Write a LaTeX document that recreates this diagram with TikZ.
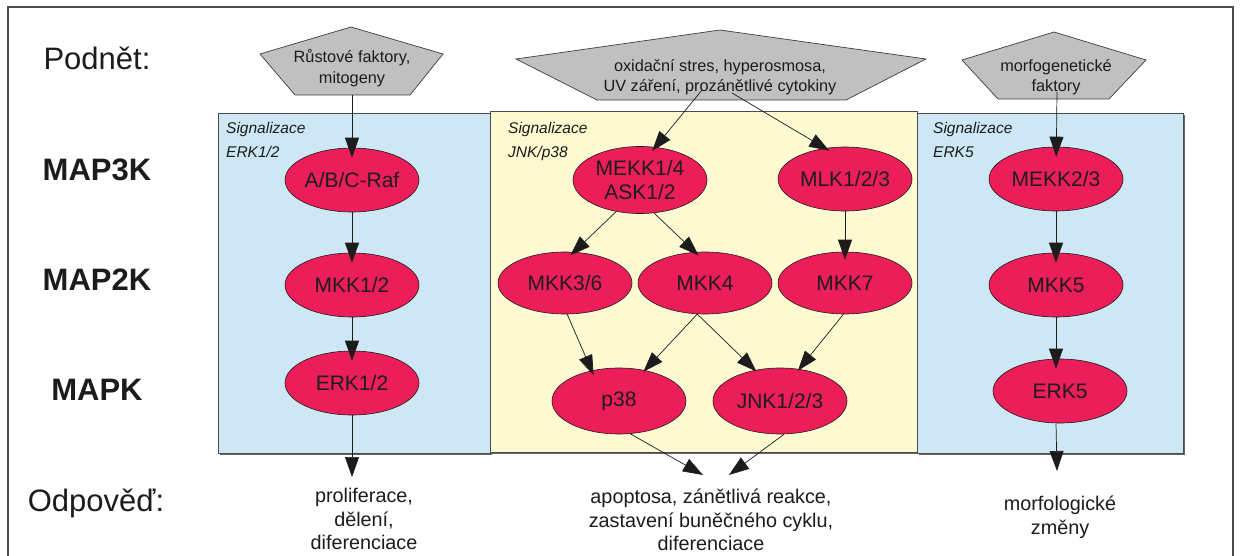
\documentclass[tikz,border=0pt]{standalone}
\usepackage{fontspec}
\setmainfont{Liberation Sans}
\usetikzlibrary{shapes.geometric,arrows.meta,calc}
\definecolor{kinase}{HTML}{EC1E5A}
\definecolor{erkbg}{HTML}{CDE8F4}
\definecolor{jnkbg}{HTML}{FDF9D1}
\definecolor{stimulus}{HTML}{C0C0C0}
\definecolor{ink}{HTML}{1C1C1C}
\tikzset{
  kin/.style={ellipse, draw=ink, line width=0.6pt, fill=kinase,
    minimum width=134pt, minimum height=64pt, inner sep=0pt, align=center,
    text=ink, font=\fontsize{21}{23.5}\selectfont},
  pent/.style={draw=ink!85, line width=0.7pt, fill=stimulus},
  pentext/.style={align=center, text=ink, font=\fontsize{16.3}{20.5}\selectfont},
  panel/.style={draw=black!70, line width=0.8pt},
  paneltitle/.style={anchor=north west, align=left, inner sep=0pt, text=ink,
    font=\fontsize{15.5}{24}\selectfont\itshape},
  rowlabel/.style={anchor=base, inner sep=0pt, text=ink, font=\fontsize{31}{36}\selectfont},
  response/.style={anchor=north, align=center, inner sep=0pt, text=ink,
    font=\fontsize{19.8}{23.5}\selectfont},
  link/.style={-{Triangle[length=20pt,width=14pt]}, draw=ink, line width=0.7pt,
    shorten >=-5pt},
}
\begin{document}
\begin{tikzpicture}[x=1pt,y=-1pt]
\useasboundingbox (0,0) rectangle (1241,556);
\fill[white] (0,0) rectangle (1241,556);

% outer frame
\draw[black!70, line width=1.2pt] (8,556) -- (8,7) -- (1233,7) -- (1233,556);

% signalling panels with a soft shadow
\fill[black!60] (220,115) rectangle (492,455);
\fill[black!60] (919,115) rectangle (1185,455);
\fill[black!60] (492,113) rectangle (919,454);
\filldraw[panel, fill=erkbg] (218,113) rectangle (490,453);
\filldraw[panel, fill=erkbg] (917,113) rectangle (1183,453);
\filldraw[panel, fill=jnkbg] (490,111) rectangle (917,452);

\node[paneltitle] (t1) at (226,122) {Signalizace\\ERK1/2};
\node[paneltitle] (t2) at (508,122) {Signalizace\\JNK/p38};
\node[paneltitle] (t3) at (933,122) {Signalizace\\ERK5};

% row labels
\node[rowlabel] (lstim) at (97,70) {Podnět:};
\node[rowlabel, font=\fontsize{31}{36}\selectfont\bfseries] (l3) at (97,181) {MAP3K};
\node[rowlabel, font=\fontsize{31}{36}\selectfont\bfseries] (l2) at (97,290) {MAP2K};
\node[rowlabel, font=\fontsize{31}{36}\selectfont\bfseries] (l1) at (97,400) {MAPK};
\node[rowlabel] (lresp) at (96,511) {Odpověď:};

% stimuli
\path[pent] (260,54) -- (351,27) -- (443,54) -- (410,95) -- (295,95) -- cycle;
\node[pentext] (growth) at (352,68) {Růstové faktory,\\mitogeny};
\path[pent] (516,59) -- (720,30) -- (926,59) -- (846,100) -- (597,100) -- cycle;
\node[pentext] (stress) at (720,77) {oxidační stres, hyperosmosa,\\UV záření, prozánětlivé cytokiny};
\path[pent] (962,60) -- (1054,32) -- (1146,60) -- (1109,99) -- (998,99) -- cycle;
\node[pentext] (morpho) at (1056,77) {morfogenetické\\faktory};
\coordinate (g1) at (352,95);
\coordinate (s1) at (702,90);
\coordinate (s2) at (732,93);
\coordinate (m1) at (1057,92);

% kinases
\node[kin] (raf) at (352,180) {A/B/C-Raf};
\node[kin] (mkk12) at (352,285) {MKK1/2};
\node[kin] (erk12) at (352,383) {ERK1/2};

\node[kin, minimum height=67pt] (mekk) at (640,180) {MEKK1/4\\ASK1/2};
\node[kin] (mlk) at (845,179) {MLK1/2/3};
\node[kin, minimum height=62pt] (mkk36) at (565,283) {MKK3/6};
\node[kin, minimum height=62pt] (mkk4) at (705,283) {MKK4};
\node[kin, minimum height=62pt] (mkk7) at (845,283) {MKK7};
\node[kin, minimum height=66pt] (p38) at (619,401) {p38};
\node[kin, minimum height=66pt] (jnk) at (780,401) {JNK1/2/3};

\node[kin] (mekk23) at (1056,179) {MEKK2/3};
\node[kin] (mkk5) at (1056,285) {MKK5};
\node[kin] (erk5) at (1060,391) {ERK5};

% responses
\node[response] (r1) at (364,488) {proliferace,\\dělení,\\diferenciace};
\node[response] (r2) at (711,489) {apoptosa, zánětlivá reakce,\\zastavení buněčného cyklu,\\diferenciace};
\node[response] (r3) at (1060,496) {morfologické\\změny};
\coordinate (e1) at (352,477);
\coordinate (e2a) at (703,475);
\coordinate (e2b) at (729,475);
\coordinate (e3) at (1057,471);

% ERK1/2 cascade
\draw[link, shorten >=-10pt] (g1) -- (raf);
\draw[link, shorten >=-10pt] (raf) -- (mkk12);
\draw[link, shorten >=-10pt] (mkk12) -- (erk12);
\draw[link, shorten >=0pt] (erk12) -- (e1);

% JNK/p38 cascade
\draw[link, shorten >=-5pt] (s1) -- (mekk.65);
\draw[link] (s2) -- (mlk.123);
\draw[link] (mekk.-127) -- (mkk36.74);
\draw[link] (mekk.-67) -- (mkk4.108);
\draw[link, shorten >=-8pt] (mlk) -- (mkk7);
\draw[link] (mkk36.-86) -- (p38.132);
\draw[link, shorten >=-2pt] (mkk4.-104) -- (p38.50);
\draw[link, shorten >=-2pt] (mkk4.-104) -- (jnk.129);
\draw[link, shorten >=-2pt] (mkk7.-93) -- (jnk.59);
\draw[link, shorten >=0pt] (p38.-71) -- (e2a);
\draw[link, shorten >=0pt] (jnk.-83) -- (e2b);

% ERK5 cascade
\draw[link, shorten >=-10pt] (m1) -- (mekk23);
\draw[link, shorten >=-10pt] (mekk23) -- (mkk5);
\draw[link, shorten >=-10pt] (mkk5.south) -- (mkk5.south |- erk5.north);
\draw[link, shorten >=0pt] (mkk5.south |- erk5.south) -- (e3);
\end{tikzpicture}
\end{document}
